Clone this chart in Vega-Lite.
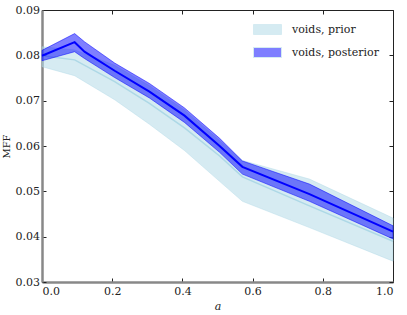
{
  "$schema": "https://vega.github.io/schema/vega-lite/v6.json",
  "width": 351,
  "height": 272,
  "autosize": {"type": "none"},
  "padding": {"left": 42, "top": 10, "right": 14, "bottom": 33},
  "background": "white",
  "config": {
    "view": {"stroke": "#222222", "strokeWidth": 1},
    "font": "DejaVu Serif",
    "legend": {
      "orient": "top-right",
      "offset": 14,
      "padding": 0,
      "title": null,
      "labelFont": "DejaVu Serif",
      "labelFontSize": 11,
      "labelColor": "#222222",
      "symbolType": "M-2.8,-1H2.8V1H-2.8Z",
      "symbolSize": 100,
      "symbolStrokeWidth": 1,
      "symbolOpacity": 0.5,
      "rowPadding": 8,
      "labelOffset": 19
    }
  },
  "data": {
    "values": [
      {"series": "voids, prior", "a": 0.0, "lo": 0.0775, "mid": 0.0799, "hi": 0.0819},
      {"series": "voids, prior", "a": 0.093, "lo": 0.0755, "mid": 0.0790, "hi": 0.0812},
      {"series": "voids, prior", "a": 0.207, "lo": 0.0702, "mid": 0.0742, "hi": 0.0778},
      {"series": "voids, prior", "a": 0.306, "lo": 0.0648, "mid": 0.0694, "hi": 0.0733},
      {"series": "voids, prior", "a": 0.406, "lo": 0.0590, "mid": 0.0640, "hi": 0.0679},
      {"series": "voids, prior", "a": 0.506, "lo": 0.0522, "mid": 0.0578, "hi": 0.0612},
      {"series": "voids, prior", "a": 0.571, "lo": 0.0478, "mid": 0.0532, "hi": 0.0568},
      {"series": "voids, prior", "a": 0.762, "lo": 0.0420, "mid": 0.0468, "hi": 0.0527},
      {"series": "voids, prior", "a": 1.0, "lo": 0.0346, "mid": 0.0390, "hi": 0.0441},
      {"series": "voids, posterior", "a": 0.0, "lo": 0.0788, "mid": 0.0799, "hi": 0.0811},
      {"series": "voids, posterior", "a": 0.093, "lo": 0.0808, "mid": 0.0829, "hi": 0.0848},
      {"series": "voids, posterior", "a": 0.121, "lo": 0.0793, "mid": 0.0808, "hi": 0.0830},
      {"series": "voids, posterior", "a": 0.207, "lo": 0.0751, "mid": 0.0766, "hi": 0.0783},
      {"series": "voids, posterior", "a": 0.306, "lo": 0.0706, "mid": 0.0720, "hi": 0.0738},
      {"series": "voids, posterior", "a": 0.406, "lo": 0.0652, "mid": 0.0667, "hi": 0.0684},
      {"series": "voids, posterior", "a": 0.506, "lo": 0.0586, "mid": 0.0600, "hi": 0.0617},
      {"series": "voids, posterior", "a": 0.571, "lo": 0.0538, "mid": 0.0554, "hi": 0.0567},
      {"series": "voids, posterior", "a": 0.762, "lo": 0.0478, "mid": 0.0494, "hi": 0.0516},
      {"series": "voids, posterior", "a": 1.0, "lo": 0.0395, "mid": 0.0411, "hi": 0.0424}
    ]
  },
  "resolve": {"axis": {"x": "independent", "y": "independent"}},
  "layer": [
    {
      "transform": [{"filter": "datum.series === 'voids, prior'"}],
      "mark": {"type": "area", "fillOpacity": 0.5, "stroke": "#add8e6", "strokeOpacity": 0.4, "strokeWidth": 1},
      "encoding": {
        "x": {
          "field": "a", "type": "quantitative",
          "scale": {"domain": [0, 1], "nice": false, "zero": false},
          "axis": {
            "orient": "bottom", "values": [0, 0.2, 0.4, 0.6, 0.8, 1], "format": ".1f",
            "grid": false, "domainColor": "#888888", "domainWidth": 2.5,
            "tickColor": "#222222", "tickSize": -4, "tickWidth": 1, "labelPadding": 7,
            "labelFont": "DejaVu Serif", "labelFontSize": 11, "labelColor": "#222222",
            "title": "a", "titleFont": "DejaVu Serif", "titleFontStyle": "italic",
            "titleFontWeight": "normal", "titleFontSize": 11, "titleColor": "#222222", "titlePadding": 4
          }
        },
        "y": {
          "field": "lo", "type": "quantitative",
          "scale": {"domain": [0.03, 0.09], "nice": false, "zero": false},
          "axis": {
            "orient": "left", "values": [0.03, 0.04, 0.05, 0.06, 0.07, 0.08, 0.09], "format": ".2f",
            "grid": false, "domainColor": "#888888", "domainWidth": 2.5,
            "tickColor": "#222222", "tickSize": -4, "tickWidth": 1, "labelPadding": 6.5,
            "labelFont": "DejaVu Serif", "labelFontSize": 11, "labelColor": "#222222",
            "title": "MFF", "titleFont": "DejaVu Serif", "titleFontWeight": "normal",
            "titleFontSize": 10, "titleColor": "#222222", "titlePadding": 4
          }
        },
        "y2": {"field": "hi"},
        "color": {
          "field": "series", "type": "nominal",
          "scale": {"domain": ["voids, prior", "voids, posterior"], "range": ["#add8e6", "#0000ff"]},
          "legend": {
            "encode": {
              "symbols": {
                "update": {
                  "stroke": {"scale": "color", "field": "value"}
                }
              }
            }
          }
        }
      }
    },
    {
      "transform": [{"filter": "datum.series === 'voids, prior'"}],
      "mark": {"type": "line", "color": "#add8e6", "strokeWidth": 1.5},
      "encoding": {
        "x": {
          "field": "a", "type": "quantitative",
          "axis": {
            "orient": "top", "values": [0, 0.2, 0.4, 0.6, 0.8, 1], "labels": false, "domain": false,
            "grid": false, "tickColor": "#222222", "tickSize": -4, "tickWidth": 1, "title": null
          }
        },
        "y": {
          "field": "mid", "type": "quantitative",
          "axis": {
            "orient": "right", "values": [0.03, 0.04, 0.05, 0.06, 0.07, 0.08, 0.09], "labels": false,
            "domain": false, "grid": false, "tickColor": "#222222", "tickSize": -4, "tickWidth": 1, "title": null
          }
        }
      }
    },
    {
      "transform": [{"filter": "datum.series === 'voids, posterior'"}],
      "mark": {"type": "area", "fillOpacity": 0.5, "stroke": "#0000ff", "strokeOpacity": 0.5, "strokeWidth": 1},
      "encoding": {
        "x": {"field": "a", "type": "quantitative", "axis": null},
        "y": {"field": "lo", "type": "quantitative", "axis": null},
        "y2": {"field": "hi"},
        "color": {"field": "series", "type": "nominal"}
      }
    },
    {
      "transform": [{"filter": "datum.series === 'voids, posterior'"}],
      "mark": {"type": "line", "color": "#0000ff", "strokeWidth": 2},
      "encoding": {
        "x": {"field": "a", "type": "quantitative", "axis": null},
        "y": {"field": "mid", "type": "quantitative", "axis": null}
      }
    }
  ]
}
